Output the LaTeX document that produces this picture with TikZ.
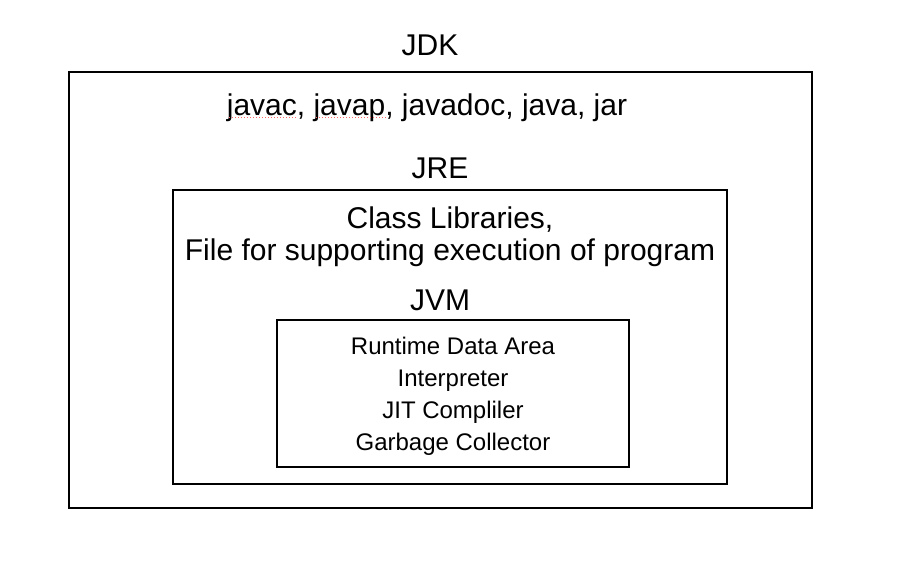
\documentclass[tikz,border=0pt]{standalone}
\usepackage{fontspec}
\setmainfont{Liberation Sans}
\begin{document}
\begin{tikzpicture}[x=1pt,y=-1pt,
  frame/.style={draw=black,line width=2pt},
  big/.style={anchor=base,inner sep=0pt,font=\fontsize{30}{36}\selectfont},
  small/.style={anchor=base,inner sep=0pt,font=\fontsize{24}{29}\selectfont},
  squiggle/.style={draw=red!60,line width=1pt,dotted}]
\useasboundingbox (0,0) rectangle (900,566);
\fill[white] (0,0) rectangle (900,566);
% boxes
\draw[frame] (69,72) rectangle (812,508);
\draw[frame] (173,190) rectangle (727,484);
\draw[frame] (277,320) rectangle (629,467);
% titles
\node[big] (jdk) at (430,55) {JDK};
\node[big] (tools) at (427,115) {javac, javap, javadoc, java, jar};
\node[big] (jre) at (440,178) {JRE};
\node[big] (cl1) at (450,228) {Class Libraries,};
\node[big] (cl2) at (450,260) {File for supporting execution of program};
\node[big] (jvm) at (440,310) {JVM};
% JVM contents
\node[small] (rda) at (453,354) {Runtime Data Area};
\node[small] (interp) at (453,386) {Interpreter};
\node[small] (jit) at (453,418) {JIT Compliler};
\node[small] (gc) at (453,450) {Garbage Collector};
% spell-check marks
\coordinate (s1a) at (229,117); \coordinate (s1b) at (297,117);
\coordinate (s2a) at (316,117); \coordinate (s2b) at (386,117);
\draw[squiggle] (s1a) -- (s1b);
\draw[squiggle] (s2a) -- (s2b);
\end{tikzpicture}
\end{document}
